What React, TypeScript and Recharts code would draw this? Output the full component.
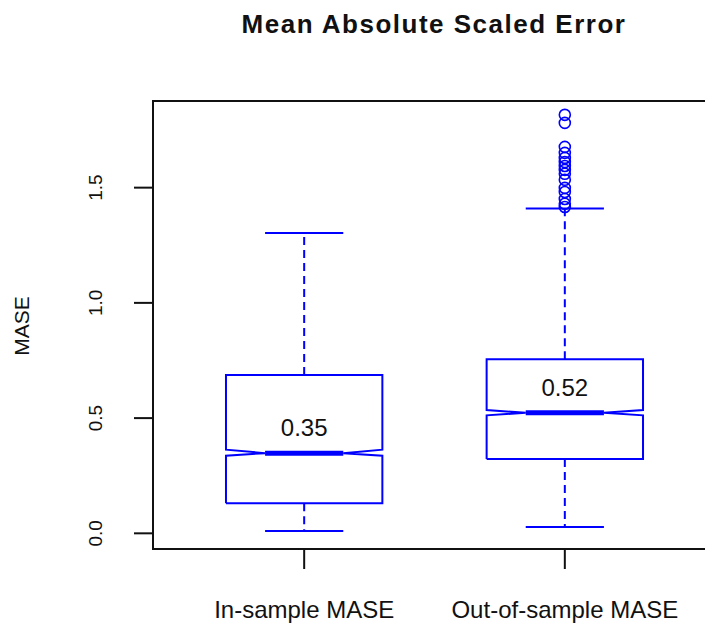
import React from "react";
import {
  ScatterChart,
  Scatter,
  XAxis,
  YAxis,
  ReferenceLine,
  ReferenceArea,
} from "recharts";

// box statistics
const groups = ["In-sample MASE", "Out-of-sample MASE"];
const lowerWhisker = [0.01, 0.028];
const q1 = [0.13, 0.322];
const median = [0.348, 0.523];
const q3 = [0.687, 0.755];
const upperWhisker = [1.303, 1.41];
const notchLo = [0.337, 0.512];
const notchHi = [0.363, 0.535];
const medianLabels = ["0.35", "0.52"];

// outliers of the out-of-sample group
const outOutliers = [
  1.816, 1.781, 1.677, 1.651, 1.629, 1.611, 1.594, 1.577, 1.56, 1.534, 1.499,
  1.481, 1.451, 1.43, 1.416,
];

const yTicks = [0, 0.5, 1, 1.5];

const BLUE = "#0000ff";
const INK = "#111";
const FONT = "'Liberation Sans', Arial, Helvetica, sans-serif";
const X_DOMAIN: [number, number] = [0.42, 2.58];
const Y_DOMAIN: [number, number] = [-0.068, 1.876];
const HALF = 0.3; // box half width (x units)

// notched box outline in data units, like R's boxplot(notch = TRUE)
function outline(i: number) {
  const c = i + 1;
  return [
    { x: c - HALF, y: q1[i] },
    { x: c - HALF, y: notchLo[i] },
    { x: c - HALF / 2, y: median[i] },
    { x: c - HALF, y: notchHi[i] },
    { x: c - HALF, y: q3[i] },
    { x: c + HALF, y: q3[i] },
    { x: c + HALF, y: notchHi[i] },
    { x: c + HALF / 2, y: median[i] },
    { x: c + HALF, y: notchLo[i] },
    { x: c + HALF, y: q1[i] },
    { x: c - HALF, y: q1[i] },
  ];
}

const labelPoints = groups.map((_, i) => ({ x: i + 1, y: median[i], label: medianLabels[i] }));
const outlierPoints = outOutliers.map((v) => ({ x: 2, y: v }));

const YTick = (props: any) => {
  const { x, y, payload } = props;
  return (
    <text
      x={x}
      y={y}
      transform={`rotate(-90, ${x}, ${y})`}
      textAnchor="middle"
      fontSize={19}
      fontFamily={FONT}
      fill={INK}
    >
      {Number(payload.value).toFixed(1)}
    </text>
  );
};

const XTick = (props: any) => {
  const { x, y, payload } = props;
  return (
    <text x={x} y={y + 49} textAnchor="middle" fontSize={24} fontFamily={FONT} fill={INK}>
      {groups[Math.round(payload.value) - 1]}
    </text>
  );
};

export default function App() {
  return (
    <div
      style={{
        position: "absolute",
        left: 0,
        top: 0,
        width: 705,
        height: 625,
        overflow: "hidden",
        background: "#fff",
      }}
    >
      <ScatterChart
        width={720}
        height={625}
        margin={{ top: 101, right: 4, left: 73, bottom: 0 }}
      >
        <XAxis
          type="number"
          dataKey="x"
          domain={X_DOMAIN}
          allowDataOverflow
          ticks={[1, 2]}
          height={76}
          axisLine={false}
          tickSize={20}
          tickMargin={0}
          tickLine={{ stroke: INK, strokeWidth: 2 }}
          tick={<XTick />}
        />
        <YAxis
          type="number"
          dataKey="y"
          domain={Y_DOMAIN}
          allowDataOverflow
          ticks={yTicks}
          width={80}
          axisLine={false}
          tickSize={19}
          tickMargin={32}
          tickLine={{ stroke: INK, strokeWidth: 2 }}
          tick={<YTick />}
        />
        <ReferenceArea
          x1={X_DOMAIN[0]}
          x2={X_DOMAIN[1]}
          y1={Y_DOMAIN[0]}
          y2={Y_DOMAIN[1]}
          fill="none"
          stroke={INK}
          strokeWidth={2}
          ifOverflow="visible"
        />
        {groups.map((_, i) => (
          <ReferenceLine
            key={`wu${i}`}
            segment={[
              { x: i + 1, y: q3[i] },
              { x: i + 1, y: upperWhisker[i] },
            ]}
            stroke={BLUE}
            strokeWidth={2}
            strokeDasharray="8 5"
          />
        ))}
        {groups.map((_, i) => (
          <ReferenceLine
            key={`wl${i}`}
            segment={[
              { x: i + 1, y: q1[i] },
              { x: i + 1, y: lowerWhisker[i] },
            ]}
            stroke={BLUE}
            strokeWidth={2}
            strokeDasharray="8 5"
          />
        ))}
        {groups.map((_, i) => (
          <ReferenceLine
            key={`cu${i}`}
            segment={[
              { x: i + 1 - HALF / 2, y: upperWhisker[i] },
              { x: i + 1 + HALF / 2, y: upperWhisker[i] },
            ]}
            stroke={BLUE}
            strokeWidth={2}
          />
        ))}
        {groups.map((_, i) => (
          <ReferenceLine
            key={`cl${i}`}
            segment={[
              { x: i + 1 - HALF / 2, y: lowerWhisker[i] },
              { x: i + 1 + HALF / 2, y: lowerWhisker[i] },
            ]}
            stroke={BLUE}
            strokeWidth={2}
          />
        ))}
        {groups.map((_, i) => (
          <ReferenceLine
            key={`md${i}`}
            segment={[
              { x: i + 1 - HALF / 2, y: median[i] },
              { x: i + 1 + HALF / 2, y: median[i] },
            ]}
            stroke={BLUE}
            strokeWidth={5}
          />
        ))}
        {groups.map((_, i) => (
          <Scatter
            key={`box${i}`}
            data={outline(i)}
            line={{ stroke: BLUE, strokeWidth: 2 }}
            lineJointType="linear"
            shape={() => <g />}
            isAnimationActive={false}
          />
        ))}
        <Scatter
          data={outlierPoints}
          shape={(p: any) => (
            <circle cx={p.cx} cy={p.cy} r={5.5} fill="none" stroke={BLUE} strokeWidth={1.6} />
          )}
          isAnimationActive={false}
        />
        <Scatter
          data={labelPoints}
          shape={(p: any) => (
            <text
              x={p.cx}
              y={p.cy - 17}
              textAnchor="middle"
              fontSize={24}
              fontFamily={FONT}
              fill={INK}
            >
              {p.payload.label}
            </text>
          )}
          isAnimationActive={false}
        />
      </ScatterChart>
      <svg
        width={705}
        height={625}
        style={{ position: "absolute", left: 0, top: 0, pointerEvents: "none" }}
      >
        <text
          x={434}
          y={33}
          textAnchor="middle"
          fontSize={26}
          fontWeight="bold"
          fontFamily={FONT}
          letterSpacing={1.5}
          fill={INK}
        >
          Mean Absolute Scaled Error
        </text>
        <text
          x={29}
          y={326}
          transform="rotate(-90, 29, 326)"
          textAnchor="middle"
          fontSize={21}
          fontFamily={FONT}
          fill={INK}
        >
          MASE
        </text>
      </svg>
    </div>
  );
}
